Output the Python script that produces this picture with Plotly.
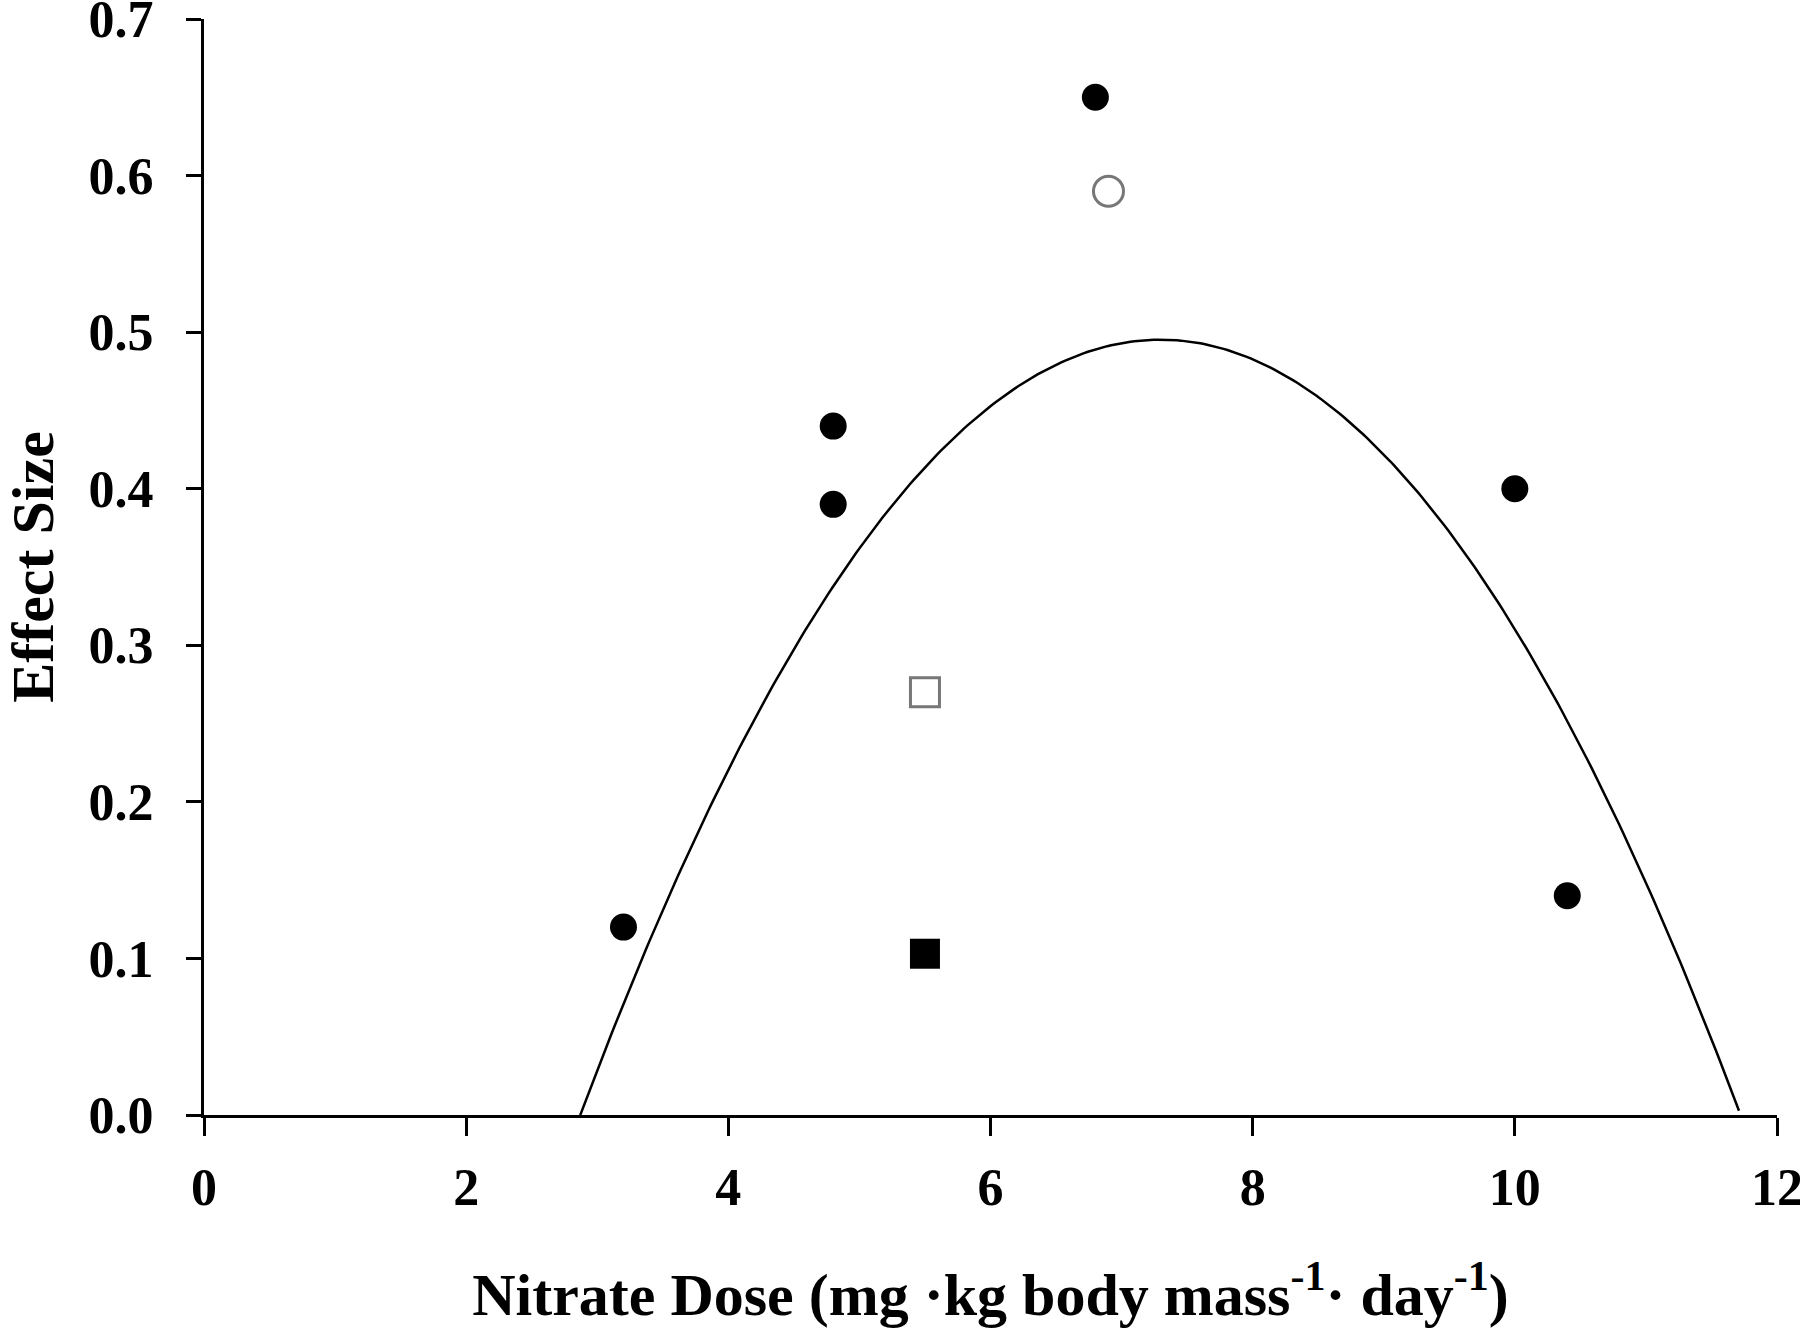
import numpy as np
import plotly.graph_objects as go

# filled circles
dose_circle = [3.2, 4.8, 4.8, 6.8, 10.0, 10.4]
effect_circle = [0.12, 0.44, 0.39, 0.65, 0.40, 0.14]

# open circle
dose_open_circle = [6.9]
effect_open_circle = [0.59]

# open square
dose_open_square = [5.5]
effect_open_square = [0.27]

# filled square
dose_square = [5.5]
effect_square = [0.103]

# quadratic fit: y = a*x^2 + b*x + c
fit_a = -0.02528
fit_b = 0.3689
fit_c = -0.8506
fit_x_start, fit_x_end = 2.87, 11.71

tick_font = dict(family="Liberation Serif", size=52, color="black", weight="bold")
title_font = dict(family="Liberation Serif", size=60, color="black", weight="bold")

fit_x = np.linspace(fit_x_start, fit_x_end, 300)
fit_y = fit_a * fit_x ** 2 + fit_b * fit_x + fit_c

fig = go.Figure()

fig.add_trace(go.Scatter(x=fit_x, y=fit_y, mode='lines',
                         line=dict(color='black', width=2.5), showlegend=False))

fig.add_trace(go.Scatter(x=dose_circle, y=effect_circle, mode='markers',
                         marker=dict(symbol='circle', size=27, color='black'),
                         showlegend=False))

fig.add_trace(go.Scatter(x=dose_open_circle, y=effect_open_circle, mode='markers',
                         marker=dict(symbol='circle-open', size=30, color='#777777',
                                     line=dict(width=3)),
                         showlegend=False))

fig.add_trace(go.Scatter(x=dose_open_square, y=effect_open_square, mode='markers',
                         marker=dict(symbol='square-open', size=29, color='#777777',
                                     line=dict(width=3)),
                         showlegend=False))

fig.add_trace(go.Scatter(x=dose_square, y=effect_square, mode='markers',
                         marker=dict(symbol='square', size=30, color='black'),
                         showlegend=False))

fig.update_layout(
    width=1800, height=1331,
    template='plotly_white',
    plot_bgcolor='white', paper_bgcolor='white',
    margin=dict(l=204, r=23, t=19, b=216),
    xaxis=dict(
        range=[0, 12], tickvals=[0, 2, 4, 6, 8, 10, 12],
        showgrid=False, zeroline=False, automargin=False,
        showline=True, linecolor='black', linewidth=3,
        ticks='outside', ticklen=18, tickwidth=3, tickcolor='black',
        tickfont=tick_font, ticklabelstandoff=7, ticklabeloverflow='allow',
        title=dict(text='Nitrate Dose (mg ·kg body mass<sup>-1</sup>· day<sup>-1</sup>)',
                   font=title_font, standoff=58),
    ),
    yaxis=dict(
        range=[0, 0.7], tickvals=[0, 0.1, 0.2, 0.3, 0.4, 0.5, 0.6, 0.7],
        tickformat='.1f',
        showgrid=False, zeroline=False, automargin=False,
        showline=True, linecolor='black', linewidth=3,
        ticks='outside', ticklen=15, tickwidth=3, tickcolor='black',
        tickfont=tick_font, ticklabelstandoff=22, ticklabeloverflow='allow',
        title=dict(text='Effect Size', font=title_font, standoff=68),
    ),
)

# drop the default page margin so the figure sits at the window's corner
fig.write_html("out.html", config={'displayModeBar': False},
               post_script="document.body.style.margin = '0px';")
